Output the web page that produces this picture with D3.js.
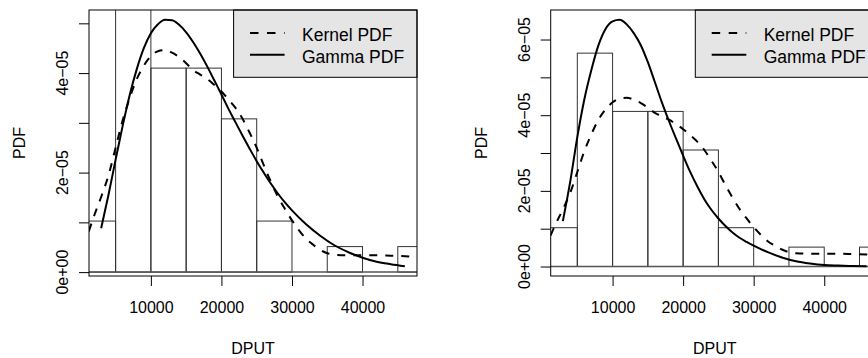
<!DOCTYPE html>
<html>
<head>
<meta charset="utf-8">
<style>
  body { margin: 0; background: #fff; }
  text { font-family: "Liberation Sans", Arial, Helvetica, sans-serif; fill: #000; }
</style>
</head>
<body>
<svg width="868" height="358"></svg>
<script src="https://d3js.org/d3.v7.min.js"></script>
<script>

// histogram of DPUT (density scale, values in 1e-5)
var binEdges = [0, 5000, 10000, 15000, 20000, 25000, 30000, 35000, 40000, 45000, 50000];
var histDensity = [1.026, 5.64, 4.10, 4.10, 3.08, 1.026, 0, 0.513, 0, 0.513];

// kernel density estimate (1e-5)
var kernelX = [1200, 2000, 3000, 4000, 5000, 6000, 7000, 8000, 9000, 10000, 11000, 12000,
  13000, 14000, 15000, 16000, 17000, 18000, 19000, 20000, 21000, 22000, 23000, 24000,
  25000, 26000, 27000, 28000, 29000, 30000, 31000, 32000, 33000, 34000, 35000, 36000,
  38000, 40000, 42000, 44000, 46000, 47800];
var kernelY = [0.82, 1.15, 1.53, 1.95, 2.5, 3.05, 3.5, 3.88, 4.15, 4.34, 4.44, 4.46,
  4.41, 4.32, 4.2, 4.06, 3.97, 3.88, 3.76, 3.63, 3.47, 3.3, 3.08, 2.8,
  2.5, 2.15, 1.82, 1.52, 1.27, 1.04, 0.84, 0.67, 0.55, 0.45, 0.38, 0.35,
  0.34, 0.34, 0.34, 0.33, 0.32, 0.30];

// fitted gamma curves, left and right panel (1e-5)
var gammaX = [2950, 4000, 5000, 6000, 7000, 8000, 9000, 10000, 11000, 12000, 13000, 14000,
  15000, 16000, 17000, 18000, 19000, 20000, 21000, 22000, 23000, 24000, 25000, 26000,
  27000, 28000, 29000, 30000, 32000, 34000, 36000, 38000, 40000, 42000, 44000, 46000];
var gammaLeft = [0.88, 1.56, 2.26, 2.94, 3.56, 4.08, 4.5, 4.8, 4.98, 5.07, 5.06, 4.97,
  4.82, 4.62, 4.39, 4.13, 3.85, 3.57, 3.28, 3.01, 2.74, 2.48, 2.23, 2.0,
  1.78, 1.58, 1.4, 1.24, 0.96, 0.73, 0.54, 0.4, 0.29, 0.21, 0.16, 0.12];
var gammaRight = [1.2, 2.25, 3.42, 4.42, 5.2, 5.85, 6.28, 6.48, 6.52, 6.4, 6.17, 5.85,
  5.4, 4.87, 4.33, 3.84, 3.38, 2.93, 2.5, 2.12, 1.78, 1.5, 1.27, 1.07,
  0.9, 0.76, 0.65, 0.55, 0.38, 0.24, 0.14, 0.08, 0.04, 0.025, 0.015, 0.01];

var xTicks = [10000, 20000, 30000, 40000];
var legendLabels = ["Kernel PDF", "Gamma PDF"];
var UNIT = 1e-5;

var svg = d3.select("svg");
var plotW = 328, plotTop = 10, plotBottom = 276;

// R style exponent labels, e.g. 2e-05
function rExp(v) {
  if (Math.abs(v) < 1e-12) return "0e+00";
  var e = Math.floor(Math.log10(Math.abs(v)) + 1e-9);
  var m = Math.round(v / Math.pow(10, e));
  return m + "e" + (e < 0 ? "\u2212" : "+") + String(Math.abs(e)).padStart(2, "0");
}

function pad(ext) {
  var r = ext[1] - ext[0];
  return [ext[0] - 0.04 * r, ext[1] + 0.04 * r];
}

function drawPanel(left, gammaY, id) {
  var g = svg.append("g");
  var x = d3.scaleLinear().domain(pad(d3.extent(gammaX))).range([left, left + plotW]);
  var y = d3.scaleLinear().domain(pad(d3.extent(gammaY)).map(function(d) { return d * UNIT; }))
      .range([plotBottom, plotTop]);

  svg.append("defs").append("clipPath").attr("id", id)
    .append("rect").attr("x", left).attr("y", plotTop)
      .attr("width", plotW).attr("height", plotBottom - plotTop);

  var inner = g.append("g").attr("clip-path", "url(#" + id + ")");

  inner.selectAll("rect.bar")
    .data(histDensity)
    .enter().append("rect")
      .attr("class", "bar")
      .attr("x", function(d, i) { return x(binEdges[i]); })
      .attr("width", function(d, i) { return x(binEdges[i + 1]) - x(binEdges[i]); })
      .attr("y", function(d) { return y(d * UNIT); })
      .attr("height", function(d) { return y(0) - y(d * UNIT); })
      .attr("fill", "none")
      .attr("stroke", "#333")
      .attr("stroke-width", 1);

  inner.append("line")
      .attr("x1", left).attr("x2", left + plotW)
      .attr("y1", y(0)).attr("y2", y(0))
      .attr("stroke", "#555")
      .attr("stroke-width", 1.5);

  var line = d3.line()
      .x(function(d) { return x(d[0]); })
      .y(function(d) { return y(d[1] * UNIT); })
      .curve(d3.curveMonotoneX);

  inner.append("path")
      .datum(d3.zip(kernelX, kernelY))
      .attr("fill", "none")
      .attr("stroke", "#000")
      .attr("stroke-width", 2)
      .attr("stroke-dasharray", "8,8")
      .attr("d", line);

  inner.append("path")
      .datum(d3.zip(gammaX, gammaY))
      .attr("fill", "none")
      .attr("stroke", "#000")
      .attr("stroke-width", 2)
      .attr("d", line);

  // legend in the top right corner
  var lx = left + plotW - 183.4;
  var lg = g.append("g");
  lg.append("rect")
      .attr("x", lx).attr("y", plotTop)
      .attr("width", 183.4).attr("height", 67.3)
      .attr("fill", "#e5e5e5")
      .attr("stroke", "#000");
  legendLabels.forEach(function(lab, i) {
    var ly = 33 + i * 21.7;
    lg.append("line")
        .attr("x1", lx + 16.4).attr("x2", lx + 51)
        .attr("y1", ly).attr("y2", ly)
        .attr("stroke", "#000")
        .attr("stroke-width", 2)
        .attr("stroke-dasharray", i === 0 ? "8.5,8.5" : null);
    lg.append("text")
        .attr("x", lx + 68.4)
        .attr("y", ly + 8.3)
        .attr("font-size", 17.5)
        .text(lab);
  });

  // box
  g.append("rect")
      .attr("x", left).attr("y", plotTop)
      .attr("width", plotW).attr("height", plotBottom - plotTop)
      .attr("fill", "none")
      .attr("stroke", "#000");

  // x axis
  var xa = g.append("g")
      .attr("transform", "translate(0," + plotBottom + ")")
      .call(d3.axisBottom(x).tickValues(xTicks).tickSize(10).tickPadding(16).tickFormat(d3.format("d")));
  xa.select(".domain").remove();
  xa.selectAll("text").attr("font-size", 16).attr("font-family", null);

  // y axis: tick every 1e-5, labels only every other one
  var yMax = y.domain()[1];
  var yTicks = d3.range(0, Math.floor(yMax / UNIT + 1e-9) + 1).map(function(i) { return i * UNIT; });
  var ya = g.append("g")
      .attr("transform", "translate(" + left + ",0)")
      .call(d3.axisLeft(y).tickValues(yTicks).tickSize(10).tickFormat(""));
  ya.select(".domain").remove();

  g.selectAll("text.ylab")
    .data(yTicks.filter(function(d, i) { return i % 2 === 0; }))
    .enter().append("text")
      .attr("class", "ylab")
      .attr("transform", function(d) { return "translate(" + (left - 21) + "," + y(d) + ") rotate(-90)"; })
      .attr("text-anchor", "middle")
      .attr("font-size", 16)
      .text(rExp);

  g.append("text")
      .attr("x", left + plotW / 2)
      .attr("y", 354)
      .attr("text-anchor", "middle")
      .attr("font-size", 16)
      .text("DPUT");

  g.append("text")
      .attr("transform", "translate(" + (left - 64) + "," + ((plotTop + plotBottom) / 2) + ") rotate(-90)")
      .attr("text-anchor", "middle")
      .attr("font-size", 16)
      .text("PDF");
}

drawPanel(89, gammaLeft, "clipL");
drawPanel(550.7, gammaRight, "clipR");

</script>
</body>
</html>
